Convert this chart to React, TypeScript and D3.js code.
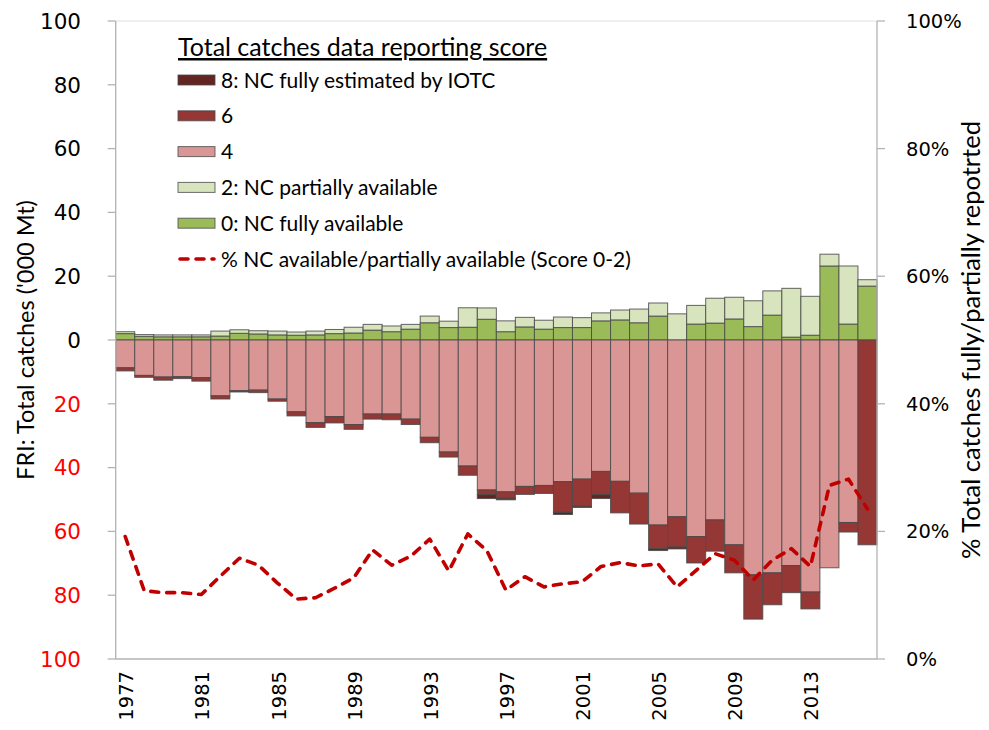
import React from "react";
import * as d3 from "d3";

const years = [
  "1977","1978","1979","1980","1981","1982","1983","1984","1985","1986",
  "1987","1988","1989","1990","1991","1992","1993","1994","1995","1996",
  "1997","1998","1999","2000","2001","2002","2003","2004","2005","2006",
  "2007","2008","2009","2010","2011","2012","2013","2014","2015","2016",
];
const yearLabels = ["1977","1981","1985","1989","1993","1997","2001","2005","2009","2013"];

// positive side
const score0 = [2.0,1.15,1.0,1.0,1.0,1.25,2.1,1.9,1.6,1.5,1.6,2.0,2.2,3.1,2.6,3.4,5.4,3.9,4.0,6.5,2.6,4.1,3.4,3.9,3.9,6.0,6.3,5.4,7.5,0,5.0,5.3,6.6,4.2,7.8,0.9,1.5,23.2,5.0,16.9];
const score2 = [0.6,0.55,0.6,0.6,0.6,1.55,1.1,1.0,1.2,1.0,1.2,1.3,1.8,1.8,1.8,1.5,2.1,2.0,6.1,3.55,3.4,3.0,2.8,3.3,3.1,2.5,3.1,4.3,4.1,8.2,5.85,7.8,6.8,8.1,7.6,15.3,12.2,3.7,18.2,2.0];
// negative side
const score4 = [8.7,11.1,11.6,11.5,11.8,17.5,15.9,15.7,18.5,22.5,25.9,24.0,26.5,23.2,23.2,24.8,30.5,35.1,39.5,47.0,47.6,45.9,45.6,44.4,43.6,41.2,44.3,48.0,58.0,55.4,61.6,56.4,64.2,73.6,73.0,70.7,79.0,71.4,57.2,0];
const score6 = [1.0,0.6,1.0,0.6,1.1,1.0,0.4,0.8,0.7,1.3,1.5,2.0,1.5,1.6,1.8,1.7,1.7,1.6,2.9,1.5,2.0,2.5,2.5,9.6,8.5,7.3,9.9,9.7,7.4,9.5,8.3,9.8,8.8,13.9,10.0,8.5,5.3,0,3.0,64.2];
const score8 = [0,0,0,0,0,0,0,0,0,0,0,0,0,0,0,0,0,0,0,1.2,0.5,0,0,0.7,0.4,1.2,0,0,0.6,0.6,0,0,0,0,0,0,0,0,0,0];
// % NC available / partially available
const pctAvail = [19.2,10.7,10.4,10.4,10.1,13.0,15.8,14.7,11.9,9.4,9.6,11.1,12.7,17.1,14.7,16.1,18.8,13.8,19.6,17.0,10.8,12.9,11.3,11.8,12.1,14.5,15.1,14.6,14.9,11.3,13.9,16.5,15.5,12.4,15.5,17.3,14.5,27.2,28.2,23.5];

const leftTicks = [100, 80, 60, 40, 20, 0, -20, -40, -60, -80, -100];
const rightTicks = [0, 20, 40, 60, 80, 100];

const legendItems = [
  { label: "8: NC fully estimated by IOTC", color: "#632523" },
  { label: "6", color: "#953735" },
  { label: "4", color: "#D99694" },
  { label: "2: NC partially available", color: "#D7E4BD" },
  { label: "0: NC fully available", color: "#9BBB59" },
];

const W = 989, H = 730;
const L = 115.7, R = 877, T = 21, B = 659;
const axisColor = "#B3B3B3";
const tickFont = "'DejaVu Sans', Verdana, sans-serif";
const textFont = "Lato, 'Open Sans', sans-serif";

export default function App() {
  const x = d3.scaleBand<string>().domain(years).range([L, R]).padding(0);
  const y = d3.scaleLinear().domain([-100, 100]).range([B, T]);
  const yR = d3.scaleLinear().domain([0, 100]).range([B, T]);
  const bw = x.bandwidth();

  const segs: { x: number; y0: number; y1: number; color: string; key: string }[] = [];
  years.forEach((yr, i) => {
    let pos = 0;
    [[score0[i], "#9BBB59"], [score2[i], "#D7E4BD"]].forEach(([v, c], k) => {
      const val = v as number;
      if (val > 0) {
        segs.push({ x: x(yr)!, y0: y(pos), y1: y(pos + val), color: c as string, key: `p${i}-${k}` });
        pos += val;
      }
    });
    let neg = 0;
    [[score4[i], "#D99694"], [score6[i], "#953735"], [score8[i], "#632523"]].forEach(([v, c], k) => {
      const val = v as number;
      if (val > 0) {
        segs.push({ x: x(yr)!, y0: y(-neg), y1: y(-(neg + val)), color: c as string, key: `n${i}-${k}` });
        neg += val;
      }
    });
  });

  const line = d3
    .line<number>()
    .x((_, i) => x(years[i])! + bw / 2)
    .y((d) => yR(d));

  const legX = 178;
  const legY0 = 80;
  const legStep = 35.8;

  return (
    <svg width={W} height={H} style={{ position: "absolute", left: 0, top: 0, background: "#fff" }}>
      {/* bars */}
      <g>
        {segs.map((s) => (
          <rect
            key={s.key}
            x={s.x}
            y={Math.min(s.y0, s.y1)}
            width={bw}
            height={Math.abs(s.y1 - s.y0)}
            fill={s.color}
            stroke="#4a4a4a"
            strokeOpacity={0.85}
            strokeWidth={1}
          />
        ))}
      </g>

      {/* axes */}
      <line x1={L} x2={L} y1={T} y2={B} stroke={axisColor} strokeWidth={1.3} />
      <line x1={R} x2={R} y1={T} y2={B} stroke={axisColor} strokeWidth={1.3} />
      <line x1={L} x2={R} y1={B} y2={B} stroke={axisColor} strokeWidth={1.3} />
      <line x1={L} x2={R} y1={T} y2={T} stroke={axisColor} strokeWidth={0.8} strokeOpacity={0.5} />

      {leftTicks.map((t) => (
        <g key={`lt${t}`}>
          <line x1={L - 8} x2={L} y1={y(t)} y2={y(t)} stroke={axisColor} strokeWidth={1.3} />
          <text
            x={81}
            y={y(t)}
            dy="0.36em"
            textAnchor="end"
            fontFamily={tickFont}
            fontSize={21.5}
            fill={t < 0 ? "#FF0000" : "#000"}
          >
            {Math.abs(t)}
          </text>
        </g>
      ))}

      {rightTicks.map((t) => (
        <g key={`rt${t}`}>
          <line x1={R} x2={R + 8} y1={yR(t)} y2={yR(t)} stroke={axisColor} strokeWidth={1.3} />
          <text
            x={906}
            y={yR(t)}
            dy="0.36em"
            textAnchor="start"
            fontFamily={tickFont}
            fontSize={19.5}
            fill="#000"
          >
            {t}%
          </text>
        </g>
      ))}

      {yearLabels.map((yr) => {
        const cx = x(yr)! + bw / 2 + 1;
        return (
          <text
            key={`yl${yr}`}
            transform={`translate(${cx},${671}) rotate(-90)`}
            dy="0.36em"
            textAnchor="end"
            fontFamily={tickFont}
            fontSize={19.5}
            fill="#000"
          >
            {yr}
          </text>
        );
      })}

      {/* axis titles */}
      <text
        transform={`translate(26,${340}) rotate(-90)`}
        dy="0.36em"
        textAnchor="middle"
        fontFamily={textFont}
        fontSize={23.5}
        fill="#000"
      >
        FRI: Total catches ('000 Mt)
      </text>
      <text
        transform={`translate(971,${340}) rotate(-90)`}
        dy="0.36em"
        textAnchor="middle"
        fontFamily={textFont}
        fontSize={25.5}
        fill="#000"
      >
        % Total catches fully/partially repotrted
      </text>

      {/* dashed percent line */}
      <path
        d={line(pctAvail) || ""}
        fill="none"
        stroke="#C00000"
        strokeWidth={3.6}
        strokeDasharray="8 8"
        strokeLinecap="round"
        strokeLinejoin="round"
      />

      {/* legend */}
      <text x={legX} y={47} dy="0.36em" fontFamily={textFont} fontSize={25} fill="#000" textDecoration="underline">
        Total catches data reporting score
      </text>
      {legendItems.map((it, k) => {
        const cy = legY0 + k * legStep;
        return (
          <g key={`lg${k}`}>
            <rect x={legX} y={cy - 5} width={37} height={10} fill={it.color} stroke="#4a4a4a" strokeOpacity={0.8} strokeWidth={1} />
            <text x={legX + 43} y={cy} dy="0.36em" fontFamily={textFont} fontSize={21} fill="#000">
              {it.label}
            </text>
          </g>
        );
      })}
      <line
        x1={legX + 2}
        x2={legX + 36}
        y1={legY0 + 5 * legStep}
        y2={legY0 + 5 * legStep}
        stroke="#C00000"
        strokeWidth={3.6}
        strokeDasharray="8 8"
        strokeLinecap="round"
      />
      <text x={legX + 43} y={legY0 + 5 * legStep} dy="0.36em" fontFamily={textFont} fontSize={21} fill="#000">
        % NC available/partially available (Score 0-2)
      </text>
    </svg>
  );
}
